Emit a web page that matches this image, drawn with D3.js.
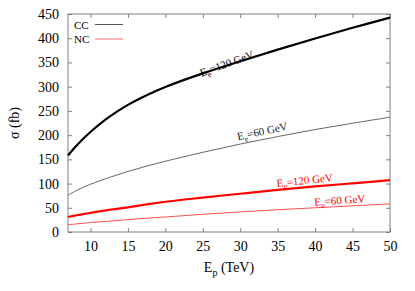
<!DOCTYPE html>
<html><head><meta charset="utf-8">
<script src="https://cdn.jsdelivr.net/npm/d3@7"></script>
<style>body{margin:0;background:#fff}svg{display:block}</style>
</head><body><svg id="c" width="415" height="291"></svg>
<script>
const energies = [7, 8, 9, 10, 12.5, 15, 17.5, 20, 25, 30, 35, 40, 45, 50];
const cc120 = [158, 176, 192, 206.5, 237.5, 262.5, 282.5, 299.5, 327.5, 352.5, 376.5, 399.5, 421.5, 442.5];
const cc60  = [76, 84.5, 92, 98.5, 112.5, 125, 136, 146, 164.5, 181.5, 197, 211.5, 224.5, 237];
const nc120 = [31, 34, 37, 39.5, 45.5, 51, 57, 62.5, 71, 79, 87, 94, 100.5, 107];
const nc60  = [15, 16.5, 18, 19.5, 22.5, 25.5, 28.5, 31, 36.5, 41.5, 46, 50, 54, 58];
const xTicks = [10, 15, 20, 25, 30, 35, 40, 45, 50];
const yTicks = [0, 50, 100, 150, 200, 250, 300, 350, 400, 450];
const legendLabels = ["CC", "NC"];

const svg = d3.select("#c");
const L = 68, R = 390, T = 14, B = 232;
const x = d3.scaleLinear().domain([7, 50]).range([L, R]);
const y = d3.scaleLinear().domain([0, 450]).range([B, T]);
const serif = "'Liberation Serif'";
const frameCol = "#808080";

const tk = 4;
const axB = svg.append("g").attr("transform", `translate(0,${B})`)
  .call(d3.axisBottom(x).tickValues(xTicks).tickSize(-tk).tickPadding(9).tickFormat(d3.format("d")));
const axT = svg.append("g").attr("transform", `translate(0,${T})`)
  .call(d3.axisTop(x).tickValues(xTicks).tickSize(-tk).tickFormat(""));
const axL = svg.append("g").attr("transform", `translate(${L},0)`)
  .call(d3.axisLeft(y).tickValues(yTicks).tickSize(-tk).tickPadding(9).tickFormat(d3.format("d")));
const axR = svg.append("g").attr("transform", `translate(${R},0)`)
  .call(d3.axisRight(y).tickValues(yTicks).tickSize(-tk).tickFormat(""));
[axB, axT, axL, axR].forEach(g => {
  g.select(".domain").remove();
  g.selectAll("line").attr("stroke", frameCol);
  g.selectAll("text").style("font-family", serif).attr("font-size", 14).attr("fill", "#000");
});
axB.selectAll("text").attr("dy", "0.71em");
svg.append("rect").attr("x", L).attr("y", T).attr("width", R - L).attr("height", B - T)
  .attr("fill", "none").attr("stroke", frameCol).attr("stroke-width", 1);

const line = d3.line().x((d, i) => x(energies[i])).y(d => y(d)).curve(d3.curveCatmullRom);
const series = [
  {v: cc120, c: "#000", w: 2.2},
  {v: cc60, c: "#555", w: 0.9},
  {v: nc120, c: "#ff0000", w: 2.2},
  {v: nc60, c: "#ff2020", w: 0.8},
];
series.forEach(s => svg.append("path").attr("d", line(s.v)).attr("fill", "none")
  .attr("stroke", s.c).attr("stroke-width", s.w));

function ann(cx, cy, ang, label, col) {
  const t = svg.append("text").attr("transform", `translate(${cx},${cy}) rotate(${ang})`)
    .attr("text-anchor", "middle").style("font-family", serif).attr("font-size", 11).attr("fill", col);
  t.append("tspan").text("E");
  t.append("tspan").attr("font-size", 8).attr("dy", 3).text("e");
  t.append("tspan").attr("dy", -3).text(label);
}
ann(228, 67, -20, "=120 GeV", "#000");
ann(263, 135, -12, "=60 GeV", "#222");
ann(305, 184, -6, "=120 GeV", "#ff0000");
ann(340, 204, -4, "=60 GeV", "#ff0000");

const lg = [{c: "#555", w: 1}, {c: "#f07070", w: 1}];
legendLabels.forEach((lab, i) => {
  const yy = 24.5 + i * 14.5;
  svg.append("text").attr("x", 74).attr("y", yy + 4).style("font-family", serif).attr("font-size", 11).text(lab);
  svg.append("line").attr("x1", 95).attr("x2", 123).attr("y1", yy).attr("y2", yy)
    .attr("stroke", lg[i].c).attr("stroke-width", lg[i].w);
});

const xt = svg.append("text").attr("x", (L + R) / 2).attr("y", 272).attr("text-anchor", "middle")
  .style("font-family", serif).attr("font-size", 14);
xt.append("tspan").text("E");
xt.append("tspan").attr("font-size", 10).attr("dy", 4).text("p");
xt.append("tspan").attr("dy", -4).text(" (TeV)");
svg.append("text").attr("transform", `translate(19,${(T + B) / 2}) rotate(-90)`).attr("text-anchor", "middle")
  .style("font-family", serif).attr("font-size", 14).text("σ (fb)");
</script></body></html>
